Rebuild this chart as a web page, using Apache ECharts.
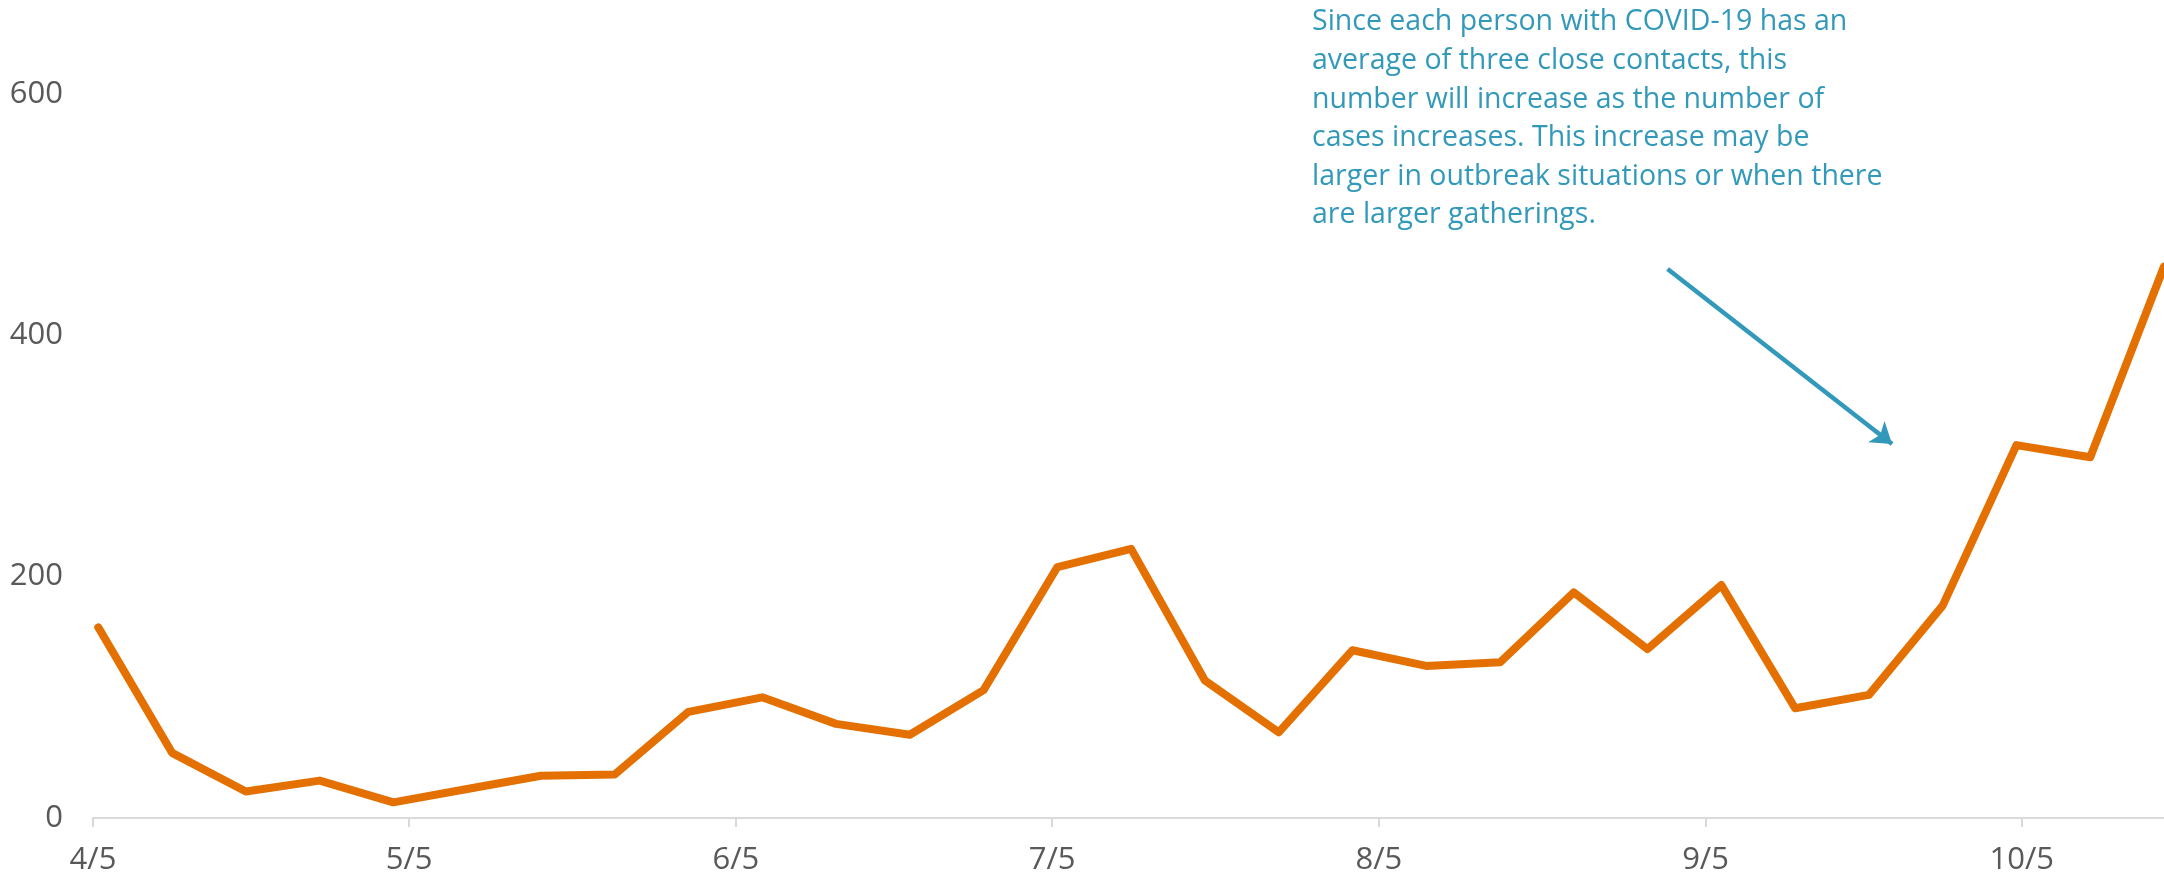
<!DOCTYPE html>
<html>
<head>
<meta charset="utf-8">
<script src="https://cdn.jsdelivr.net/npm/echarts@6/dist/echarts.min.js"></script>
<style>
html,body{margin:0;padding:0;background:#fff;}
#chart{width:2164px;height:878px;}
</style>
</head>
<body>
<div id="chart"></div>
<script>
// Weekly dates (2020) and values
const dates = ['4/5','4/12','4/19','4/26','5/3','5/10','5/17','5/24','5/31','6/7','6/14','6/21','6/28','7/5','7/12','7/19','7/26','8/2','8/9','8/16','8/23','8/30','9/6','9/13','9/20','9/27','10/4','10/11','10/18'];
const values = [158, 54, 22, 31, 13, 24, 35, 36, 88, 100, 78, 69, 106, 208, 223, 114, 71, 139, 126, 129, 187, 140, 193, 91, 102, 176, 309, 299, 457];
const tickLabels = ['4/5','5/5','6/5','7/5','8/5','9/5','10/5'];
const annotation = 'Since each person with COVID-19 has an\naverage of three close contacts, this\nnumber will increase as the number of\ncases increases. This increase may be\nlarger in outbreak situations or when there\nare larger gatherings.';

const YEAR = 2020;
const base = new Date(YEAR, 3, 5).getTime();
function dayOf(s){ const p = s.split('/'); return Math.round((new Date(YEAR, +p[0]-1, +p[1]).getTime() - base) / 864e5); }
const seriesData = dates.map((d,i) => [dayOf(d) + 0.5, values[i]]);
const tickDays = tickLabels.map(dayOf);
const labelMap = {}; tickLabels.forEach(t => labelMap[dayOf(t)] = t);
const FONT = '"Open Sans", "Liberation Sans", Arial, sans-serif';

const chart = echarts.init(document.getElementById('chart'));
chart.setOption({
  animation: false,
  backgroundColor: '#fff',
  grid: { left: 93, right: 0, top: 94, bottom: 60 },
  xAxis: {
    type: 'value',
    min: 0,
    max: dayOf(dates[dates.length-1]) + 0.5,
    splitLine: { show: false },
    axisLine: { show: true, lineStyle: { color: '#D9D9D9', width: 2 } },
    axisTick: { show: true, customValues: tickDays, length: 9, lineStyle: { color: '#D9D9D9', width: 2 } },
    axisLabel: {
      customValues: tickDays,
      formatter: v => labelMap[Math.round(v)] || '',
      color: '#595959', fontSize: 31, fontFamily: FONT, margin: 27
    }
  },
  yAxis: {
    type: 'value',
    min: 0, max: 600, interval: 200,
    splitLine: { show: false },
    axisLine: { show: false },
    axisTick: { show: false },
    axisLabel: { color: '#595959', fontSize: 31, fontFamily: FONT, margin: 30 }
  },
  series: [{
    type: 'line',
    data: seriesData,
    symbol: 'none',
    lineStyle: { color: '#E37000', width: 8, cap: 'round', join: 'round' },
    markLine: {
      silent: true,
      symbol: ['none', 'arrow'],
      symbolSize: 20,
      label: { show: false },
      lineStyle: { color: '#3399BA', width: 4.5, type: 'solid' },
      data: [[{ coord: [149.4, 455] }, { coord: [170.7, 310] }]]
    }
  }],
  graphic: [{
    type: 'text',
    left: 1312,
    top: 3,
    style: {
      text: annotation,
      fill: '#3399BA',
      fontSize: 28.5,
      lineHeight: 38.6,
      fontFamily: FONT
    }
  }]
});
</script>
</body>
</html>
